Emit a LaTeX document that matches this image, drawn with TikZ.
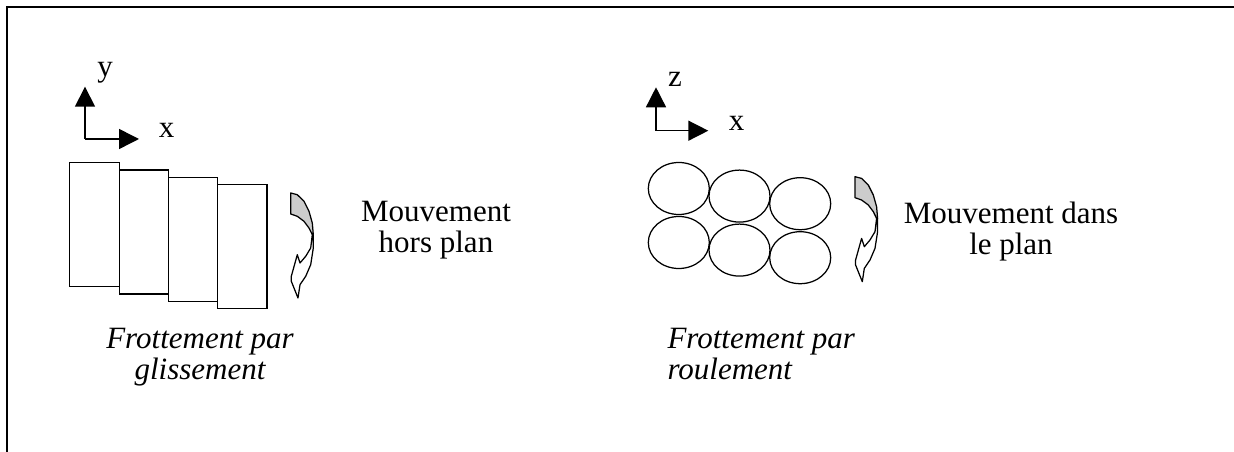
\documentclass[tikz,border=0pt]{standalone}
\usepackage{fontspec}
\setmainfont{Liberation Serif}
\usetikzlibrary{arrows.meta, shapes.geometric}
\definecolor{twistGray}{RGB}{204,204,204}

\tikzset{
    axis/.style={line width=0.6pt, -{Triangle[length=8pt, width=8pt]}},
    plate/.style={draw, line width=0.5pt, minimum width=19.72pt, minimum height=49.6pt, inner sep=0pt},
    bead/.style={draw, ellipse, line width=0.5pt, minimum width=24.4pt, minimum height=20.8pt, inner sep=0pt},
    caption/.style={inner sep=0pt, align=center},
    % curved block arrow, local origin at its top-left corner
    twist/.pic={
        \draw[line width=0.5pt, line join=round, fill=twistGray]
            (0,0) -- (6.6,1.7) -- (13.3,8.3) -- (18.3,18.3) -- (21.6,30) -- (22.6,41.7)
            -- (21.6,41.7) -- (18.3,35) -- (13.3,28.3) -- (6.6,23.3) -- (0,21) -- cycle;
        \draw[line width=0.5pt, line join=round, fill=white]
            (22.6,41.7) -- (22.6,55) -- (20,71.7) -- (15,83.3) -- (9.3,91.7) -- (7.3,105)
            -- (0.6,88.3) -- (0.6,83.3) -- (6.6,61.7) -- (9.3,70) -- (15,63.3) -- (20,55)
            -- (21.6,41.7) -- cycle;
    }
}

\begin{document}
\begin{tikzpicture}[x=0.4pt, y=-0.4pt, font=\fontsize{12.4}{12.4}\selectfont]
    \useasboundingbox (0,0) rectangle (1234,452);
    % frame: top and left edges only
    \draw[line width=0.8pt] (7,452) -- (7,7) -- (1234,7);

    % left axes (x, y)
    \coordinate (oL) at (85,139);
    \coordinate (yL) at (85,86.7);
    \coordinate (xL) at (139,139);
    \draw[axis] (oL) -- (yL);
    \draw[axis] (oL) -- (xL);
    \node[inner sep=0pt] (yLab) at (105,73) {y};
    \node[inner sep=0pt] (xLab) at (166.7,130.8) {x};

    % sliding plates
    \foreach \i in {0,...,3} {
        \node[plate] (plate\i) at ({94.5+49.3*\i},{224.7+7.3*\i}) {};
    }
    \pic (twL) at (290.7,193) {twist};

    \node[caption, anchor=north] (horsPlan) at (436,201) {Mouvement\\hors plan};
    \node[caption, anchor=north, font=\fontsize{12.4}{12.4}\selectfont\itshape] (glisse) at (200,328) {Frottement par\\glissement};

    % right axes (x, z)
    \coordinate (oR) at (656,130.7);
    \coordinate (zR) at (656,87.3);
    \coordinate (xR) at (708.3,130.7);
    \draw[axis] (oR) -- (zR);
    \draw[axis] (oR) -- (xR);
    \node[inner sep=0pt] (zLab) at (675,79) {z};
    \node[inner sep=0pt] (xLabR) at (736.7,123.8) {x};

    % rolling beads, two rows
    \foreach \i in {0,1,2} {
        \node[bead] (beadT\i) at ({678.8+60.7*\i},{188.5+7.6*\i}) {};
        \node[bead] (beadB\i) at ({678.8+60.7*\i},{242.5+7.6*\i}) {};
    }
    \pic (twR) at (855,176.7) {twist};

    \node[caption, anchor=north] (dansPlan) at (1011,201) {Mouvement dans\\le plan};
    \node[caption, anchor=north west, align=left, font=\fontsize{12.4}{12.4}\selectfont\itshape] (roule) at (667,328) {Frottement par\\roulement};
\end{tikzpicture}
\end{document}
